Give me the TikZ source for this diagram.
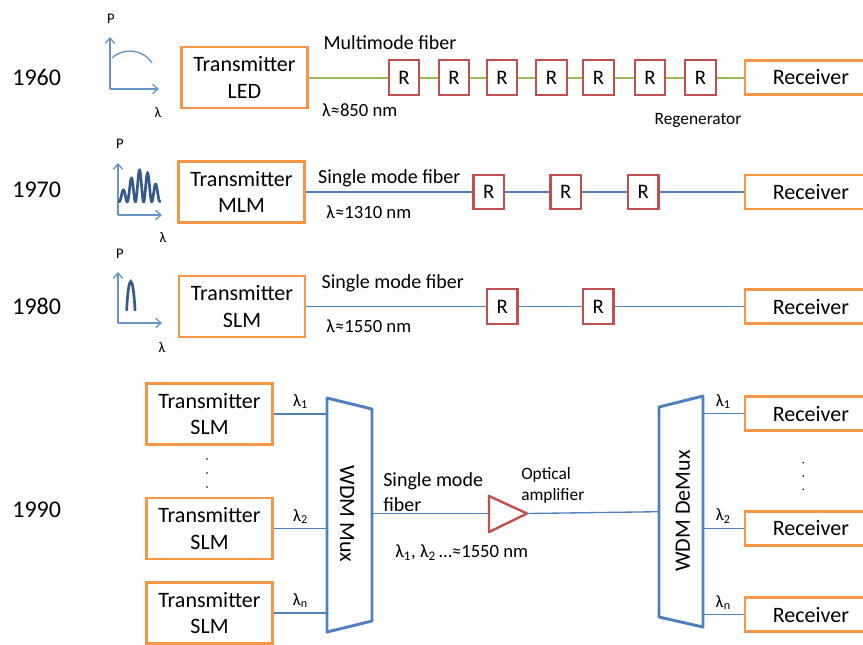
\documentclass[tikz,border=0pt]{standalone}
\usepackage{fontspec}
\setmainfont{Carlito}
\usetikzlibrary{arrows.meta}

\definecolor{txorange}{HTML}{F79646}
\definecolor{regred}{HTML}{C0504D}
\definecolor{mmfgreen}{HTML}{9BBB59}
\definecolor{smfblue}{HTML}{4F81BD}
\definecolor{specblue}{HTML}{34598A}

\begin{document}
\begin{tikzpicture}[x=0.75pt,y=-0.75pt,
  tx/.style={draw=txorange, line width=2.2pt, minimum width=94.5pt, minimum height=45.75pt, align=center, font=\fontsize{16.5}{20}\selectfont},
  rx/.style={draw=txorange, line width=2.2pt, minimum width=99pt, minimum height=25.5pt, anchor=west, font=\fontsize{16.5}{20}\selectfont},
  regen/.style={draw=regred, line width=1.8pt, minimum width=22.9pt, minimum height=25.9pt, font=\fontsize{15.5}{18}\selectfont},
  mmf/.style={draw=mmfgreen, line width=1.5pt},
  smf/.style={draw=smfblue, line width=1pt},
  axis/.style={draw=smfblue!85, line width=1pt, -{Straight Barb[length=4pt,width=7pt]}},
  spec/.style={draw=specblue, line width=2pt, line cap=round},
  wdm/.style={draw=smfblue, line width=2.2pt, line join=round},
  amp/.style={draw=regred, line width=1.8pt, line join=round},
  year/.style={font=\fontsize{18}{21}\selectfont},
  fibre/.style={font=\fontsize{15}{18.75}\selectfont},
  lam/.style={font=\fontsize{14}{17}\selectfont},
  small/.style={font=\fontsize{13}{15.75}\selectfont},
  axlbl/.style={font=\fontsize{11}{13}\selectfont},
  wdmlbl/.style={font=\fontsize{16.5}{20}\selectfont}]

\useasboundingbox (0,0) rectangle (863,644);
\clip (0,0) rectangle (863,644);

% 1960: LED over multimode fiber
\node[year] (y60) at (36.7,77.5) {1960};
\coordinate (o60) at (110,89);
\draw[axis] (o60) -- (110,37);
\draw[axis] (o60) -- (159,89);
\draw[smfblue!85, line width=1pt] (112,58) .. controls (122,48) and (142,48) .. (152,63);
\node[axlbl] (p60) at (111,19) {P};
\node[axlbl] (l60) at (158,113) {λ};

\node[tx] (tx60) at (244.5,77.5) {Transmitter\\LED};
\foreach \i/\x in {1/404,2/454,3/502,4/551.5,5/598.5,6/650,7/700.5}
  \node[regen] (r60-\i) at (\x,77.5) {R};
\node[rx] (rx60) at (743.5,77.5) {Receiver};
\draw[mmf] (tx60) -- (r60-1) -- (r60-2) -- (r60-3) -- (r60-4) -- (r60-5) -- (r60-6) -- (r60-7) -- (rx60);

\node[fibre] (mmf60) at (390,42.7) {Multimode fiber};
\node[lam] (lam60) at (359.7,110) {λ≈850 nm};
\node[small] (reglbl) at (698,120) {Regenerator};

% 1970: MLM over single mode fiber
\node[year] (y70) at (36.7,190) {1970};
\coordinate (o70) at (118,215);
\draw[axis] (o70) -- (118,163);
\draw[axis] (o70) -- (162,215);
\draw[spec] plot[domain=0:1, samples=120, smooth] ({119+41*\x},{201.7-32*exp(-((\x-0.55)^2)/0.2)*(sin(900*\x))^2});
\node[axlbl] (p70) at (120,144) {P};
\node[axlbl] (l70) at (163,238) {λ};

\node[tx] (tx70) at (241.5,192) {Transmitter\\MLM};
\foreach \i/\x in {1/488.7,2/565.7,3/643.3}
  \node[regen] (r70-\i) at (\x,192) {R};
\node[rx] (rx70) at (743.5,192) {Receiver};
\draw[smf] (tx70) -- (r70-1) -- (r70-2) -- (r70-3) -- (rx70);

\node[fibre] (smf70) at (389.3,178) {Single mode fiber};
\node[lam] (lam70) at (368.8,211.7) {λ≈1310 nm};

% 1980: SLM over single mode fiber
\node[year] (y80) at (36.7,306) {1980};
\coordinate (o80) at (118,323);
\draw[axis] (o80) -- (118,272);
\draw[axis] (o80) -- (162,323);
\draw[spec] (126.7,310) .. controls (128.5,272) and (133,272) .. (135,310);
\node[axlbl] (p80) at (120,254) {P};
\node[axlbl] (l80) at (162,348) {λ};

\node[tx] (tx80) at (242,306.5) {Transmitter\\SLM};
\foreach \i/\x in {1/502.3,2/598.3}
  \node[regen] (r80-\i) at (\x,306.5) {R};
\node[rx] (rx80) at (743.5,306.5) {Receiver};
\draw[smf] (tx80) -- (r80-1) -- (r80-2) -- (rx80);

\node[fibre] (smf80) at (392.8,283) {Single mode fiber};
\node[lam] (lam80) at (368.8,326) {λ≈1550 nm};

% 1990: WDM with optical amplifier
\node[year] (y90) at (36.7,510) {1990};

\node[tx] (tx90a) at (209.5,414) {Transmitter\\SLM};
\node[tx] (tx90b) at (209.5,528.5) {Transmitter\\SLM};
\node[tx] (tx90c) at (209.5,613) {Transmitter\\SLM};
\foreach \y in {459,473,487}
  \fill (207,\y) circle (0.9);

\draw[wdm] (327,398) -- (372,409) -- (372,621) -- (327,632) -- cycle;
\coordinate (muxL) at (327,515);
\coordinate (muxR) at (372,513.5);
\node[wdmlbl, rotate=-90] (muxlbl) at (347,514) {WDM Mux};

\draw[smf] (tx90a) -- (tx90a -| muxL) node[small, midway, above] {λ\textsubscript{1}};
\draw[smf] (tx90b) -- (tx90b -| muxL) node[small, midway, above] {λ\textsubscript{2}};
\draw[smf] (tx90c) -- (tx90c -| muxL) node[small, midway, above] {λ\textsubscript{n}};

\draw[amp] (489,496) -- (527,513.5) -- (489,532) -- cycle;
\coordinate (ampIn) at (489,513.5);
\coordinate (ampOut) at (527,513.5);

\draw[wdm] (659,407) -- (703,396) -- (703,627) -- (659,617) -- cycle;
\coordinate (demuxL) at (659,511.7);
\coordinate (demuxR) at (703,512);
\node[wdmlbl, rotate=90] (demuxlbl) at (683,511) {WDM DeMux};

\draw[smf] (muxR) -- (ampIn);
\draw[smf] (ampOut) -- (demuxL);

\node[rx] (rx90a) at (743.5,413.5) {Receiver};
\node[rx] (rx90b) at (743.5,528.3) {Receiver};
\node[rx] (rx90c) at (743.5,614.5) {Receiver};
\foreach \y in {462.7,476,489.3}
  \fill (803.3,\y) circle (0.9);

\draw[smf] (rx90a -| demuxR) -- (rx90a) node[small, midway, above] {λ\textsubscript{1}};
\draw[smf] (rx90b -| demuxR) -- (rx90b) node[small, midway, above] {λ\textsubscript{2}};
\draw[smf] (rx90c -| demuxR) -- (rx90c) node[small, midway, above] {λ\textsubscript{n}};

\node[fibre, align=left, anchor=west, inner sep=0pt] (smf90) at (383,492.5) {Single mode\\fiber};
\node[small, align=left, anchor=west, inner sep=0pt] (amplbl) at (521,485.5) {Optical\\amplifier};
\node[lam, anchor=west, inner sep=0pt] (lam90) at (395,553) {λ\textsubscript{1}, λ\textsubscript{2}\,…≈1550 nm};

\end{tikzpicture}
\end{document}
